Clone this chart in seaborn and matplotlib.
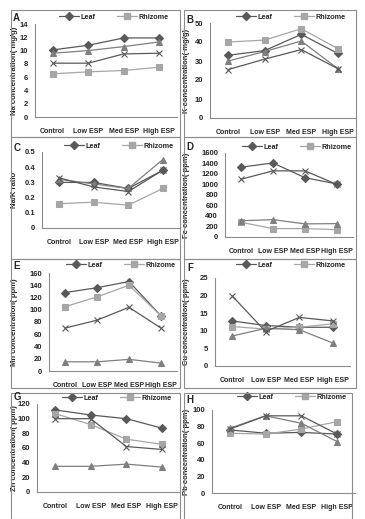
import matplotlib
matplotlib.use("Agg")
import matplotlib.pyplot as plt
import numpy as np
import pandas as pd
import seaborn as sns
from matplotlib.lines import Line2D
from matplotlib.patches import Rectangle

categories = ["Control", "Low ESP", "Med ESP", "High ESP"]
series = ["Leaf", "Rhizome", "Series 3", "Series 4"]

# values per panel: Leaf, Rhizome, triangle series, cross series
na_leaf = [10.1, 10.8, 11.9, 11.9]
na_rhizome = [6.5, 6.8, 7.0, 7.5]
na_s3 = [9.6, 10.0, 10.6, 11.3]
na_s4 = [8.1, 8.1, 9.5, 9.6]

k_leaf = [33, 35.5, 44, 34]
k_rhizome = [40, 41, 47, 36.5]
k_s3 = [30, 35, 40.5, 26]
k_s4 = [25.5, 31, 36, 26]

nak_leaf = [0.30, 0.30, 0.26, 0.38]
nak_rhizome = [0.16, 0.17, 0.15, 0.26]
nak_s3 = [0.32, 0.29, 0.26, 0.45]
nak_s4 = [0.33, 0.27, 0.24, 0.38]

fe_leaf = [1330, 1410, 1130, 1010]
fe_rhizome = [280, 160, 160, 140]
fe_s3 = [310, 330, 250, 255]
fe_s4 = [1100, 1260, 1260, 1000]

mn_leaf = [128, 136, 146, 90]
mn_rhizome = [105, 121, 140, 90]
mn_s3 = [15, 15, 19, 13]
mn_s4 = [70, 83, 104, 70]

cu_leaf = [12.8, 11.5, 11.0, 11.0]
cu_rhizome = [11.2, 10.5, 11.0, 12.0]
cu_s3 = [8.5, 10.7, 10.3, 6.5]
cu_s4 = [20, 9.8, 13.8, 12.8]

zn_leaf = [112, 105, 100, 87]
zn_rhizome = [107, 92, 72, 65]
zn_s3 = [35, 35, 38, 34]
zn_s4 = [100, 100, 62, 58]

pb_leaf = [76, 72, 73, 71]
pb_rhizome = [72, 71, 77, 86]
pb_s3 = [78, 93, 84, 62]
pb_s4 = [77, 93, 93, 71]

panel_letters = ["A", "B", "C", "D", "E", "F", "G", "H"]
y_labels = ["Na concentration( mg/g)", "K concentration( mg/g)", "Na/K ratio",
            "Fe concentration( ppm)", "Mn concentration( ppm)", "Cu concentration( ppm)",
            "Zn concentration( ppm)", "Pb concentration( ppm)"]
y_maxes = [14, 50, 0.5, 1600, 160, 25, 120, 100]
y_steps = [2, 10, 0.1, 200, 20, 5, 20, 20]

panel_data = [
    (na_leaf, na_rhizome, na_s3, na_s4),
    (k_leaf, k_rhizome, k_s3, k_s4),
    (nak_leaf, nak_rhizome, nak_s3, nak_s4),
    (fe_leaf, fe_rhizome, fe_s3, fe_s4),
    (mn_leaf, mn_rhizome, mn_s3, mn_s4),
    (cu_leaf, cu_rhizome, cu_s3, cu_s4),
    (zn_leaf, zn_rhizome, zn_s3, zn_s4),
    (pb_leaf, pb_rhizome, pb_s3, pb_s4),
]

W, H = 365, 519
# plot areas in pixels: left, top, right, bottom
axes_px = [
    (35, 24, 177, 117), (210, 23, 356, 118),
    (42, 152, 180, 228), (225, 153, 353, 237),
    (49, 273, 177, 371), (215, 278, 350, 366),
    (37, 404, 180, 492), (212, 410, 355, 493),
]
boxes_px = [
    (11, 10, 180, 137), (184, 10, 356, 137),
    (11, 137, 180, 259), (184, 137, 356, 259),
    (11, 259, 180, 388), (184, 259, 356, 388),
    (11, 393, 180, 519), (184, 393, 352, 519),
]
letter_px = [(16, 18), (190, 20), (17, 148), (190, 147),
             (17, 266), (190, 268), (17, 397), (190, 400)]
ylabel_x = [18, 190, 18, 190, 18, 190, 18, 190]
legend_y = [17, 17, 146, 147, 265, 265, 398, 397]

palette = {"Leaf": "#595959", "Rhizome": "#a6a6a6", "Series 3": "#7f7f7f", "Series 4": "#595959"}
markers = {"Leaf": "D", "Rhizome": "s", "Series 3": "^", "Series 4": "x"}
msizes = {"Leaf": 4, "Rhizome": 5, "Series 3": 4.5, "Series 4": 5}

sns.set_theme(style="white")
plt.rcParams["font.family"] = ["Liberation Sans Narrow", "Liberation Sans", "DejaVu Sans"]
plt.rcParams["font.weight"] = "bold"

fig = plt.figure(figsize=(W / 100, H / 100), dpi=100)

for (bl, bt, br, bb) in boxes_px:
    fig.patches.append(Rectangle((bl / W, 1 - bb / H), (br - bl) / W, (bb - bt) / H,
                                 transform=fig.transFigure, fill=False,
                                 edgecolor="#8c8c8c", linewidth=0.8))

for i, vals in enumerate(panel_data):
    l, t, r, b = axes_px[i]
    ax = fig.add_axes([l / W, 1 - b / H, (r - l) / W, (b - t) / H])
    df = pd.DataFrame({
        "treatment": categories * 4,
        "value": np.concatenate(vals),
        "part": np.repeat(series, 4),
    })
    for name in series:
        sub = df[df["part"] == name]
        sns.lineplot(data=sub, x="treatment", y="value", color=palette[name],
                     marker=markers[name], markersize=msizes[name],
                     markeredgecolor=palette[name], markeredgewidth=0.8,
                     linewidth=0.9, sort=False, ax=ax)
    ax.set_xlim(-0.5, 3.5)
    ax.set_ylim(0, y_maxes[i])
    ax.set_yticks(np.arange(0, y_maxes[i] + y_steps[i] / 2, y_steps[i]))
    ax.yaxis.set_major_formatter(matplotlib.ticker.FuncFormatter(lambda v, p: f"{v:g}"))
    ax.tick_params(axis="x", labelsize=5, length=0, pad=8)
    ax.tick_params(axis="y", labelsize=5.5, length=0, pad=5)
    for lab in ax.get_xticklabels() + ax.get_yticklabels():
        lab.set_fontweight("bold")
    ax.set_xlabel("")
    ax.set_ylabel(y_labels[i], fontsize=5.5, fontweight="bold")
    ax.yaxis.set_label_coords((ylabel_x[i] - l) / (r - l), 0.5)
    for side in ["top", "right"]:
        ax.spines[side].set_visible(False)
    for side in ["left", "bottom"]:
        ax.spines[side].set_color("#8c8c8c")
        ax.spines[side].set_linewidth(0.8)
    ax.set_facecolor("none")

    handles = [Line2D([], [], color=palette[n], marker=markers[n], markersize=msizes[n],
                      markeredgecolor=palette[n], linewidth=0.9) for n in ["Leaf", "Rhizome"]]
    leg_cx = (l + r) / 2 / W + 8 / W
    leg_cy = 1 - legend_y[i] / H
    ax.legend(handles, ["Leaf", "Rhizome"], loc="center", bbox_to_anchor=(leg_cx, leg_cy),
              bbox_transform=fig.transFigure, ncol=2, frameon=False, fontsize=5.2,
              handlelength=2.8, columnspacing=3, handletextpad=0.2, borderpad=0)

    lx, ly = letter_px[i]
    fig.text(lx / W, 1 - ly / H, panel_letters[i], fontsize=7, fontweight="bold",
             ha="center", va="center")

fig.savefig("out.png", dpi=100)
